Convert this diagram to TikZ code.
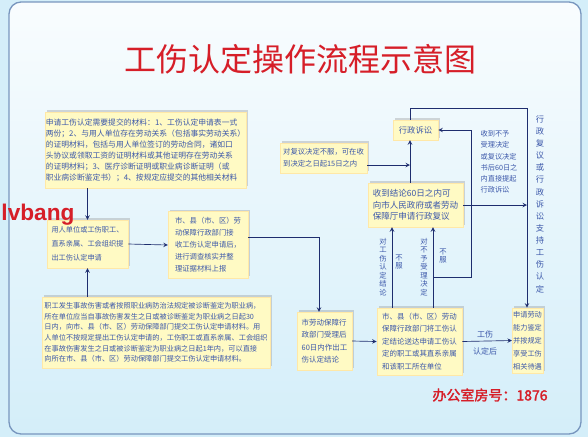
\documentclass[tikz,border=0pt]{standalone}
\usepackage{amsmath}
\usepackage{xcolor}
\usepackage{tikz}
\usepackage{fontspec}
\setmainfont{Noto Sans CJK SC}
\newfontfamily\cjkbold{Noto Sans CJK SC}[FakeBold=2]
\newfontfamily\latinsans{Liberation Sans}
\usetikzlibrary{shadows}

\definecolor{boxfill}{RGB}{255,250,196}
\definecolor{boxtext}{RGB}{60,88,170}
\definecolor{linenavy}{RGB}{30,45,110}
\definecolor{titlered}{RGB}{214,30,40}
\definecolor{framebg}{RGB}{212,238,249}
\definecolor{frameline}{RGB}{120,150,190}

\tikzset{
  flowbox/.style={fill=boxfill, draw=boxfill!85!orange, line width=0.3pt, drop shadow={shadow xshift=1.5pt, shadow yshift=1.5pt, opacity=0.3}, inner sep=0.75pt, text=boxtext, align=left},
  flowarrow/.style={draw=linenavy, line width=0.5pt, -stealth},
  sidetext/.style={text=boxtext, inner sep=0.75pt, align=center},
}

\begin{document}
\begin{tikzpicture}[x=0.75pt,y=0.75pt,yscale=-1,xscale=1]
%set diagram size 588 x 437
\useasboundingbox (0,0) rectangle (588,437);
\fill[framebg] (0,0) rectangle (588,437);
%Shape: Rounded Rect
\draw[frameline, line width=1pt, rounded corners=9pt, top color=white!85!framebg, bottom color=framebg] (9,2) rectangle (581,434);

% Text Node
\node (title) at (300,59) [text=titlered, inner sep=0.75pt, font=\fontsize{24}{26}\selectfont] {工伤认定操作流程示意图};

%Shape: Box
\node (mater) at (145.5,150) [flowbox, minimum width=146pt, minimum height=57pt, font=\fontsize{5.85}{8.2}\selectfont] {申请工伤认定需要提交的材料：1、工伤认定申请表一式\\两份；2、与用人单位存在劳动关系（包括事实劳动关系）\\的证明材料，包括与用人单位签订的劳动合同，诸如口\\头协议或领取工资的证明材料或其他证明存在劳动关系\\的证明材料；3、医疗诊断证明或职业病诊断证明（或\\职业病诊断鉴定书）；4、按规定应提交的其他相关材料};
%Shape: Box
\node (apply) at (87.5,244) [flowbox, minimum width=61pt, minimum height=36pt, font=\fontsize{5.4}{10.5}\selectfont] {用人单位或工伤职工、\\直系亲属、工会组织提\\出工伤认定申请};
%Shape: Box
\node (accept) at (208,245) [flowbox, minimum width=60pt, minimum height=50pt, font=\fontsize{5.5}{9}\selectfont] {市、县（市、区）劳\\动保障行政部门接\\收工伤认定申请后，\\进行调查核实并整\\理证据材料上报};
%Shape: Box
\node (notice) at (156,332.5) [flowbox, minimum width=171pt, minimum height=53pt, font=\fontsize{5.4}{7.9}\selectfont] {职工发生事故伤害或者按照职业病防治法规定被诊断鉴定为职业病，\\所在单位应当自事故伤害发生之日或被诊断鉴定为职业病之日起30\\日内，向市、县（市、区）劳动保障部门提交工伤认定申请材料。用\\人单位不按规定提出工伤认定申请的，工伤职工或直系亲属、工会组织\\在事故伤害发生之日或被诊断鉴定为职业病之日起1年内，可以直接\\向所在市、县（市、区）劳动保障部门提交工伤认定申请材料。};
%Shape: Box
\node (recheck) at (323.5,158) [flowbox, minimum width=65pt, minimum height=22.5pt, font=\fontsize{5.5}{9}\selectfont] {对复议决定不服，可在收\\到决定之日起15日之内};
%Shape: Box
\node (suit) at (415.5,130) [flowbox, minimum width=34pt, minimum height=15pt, font=\fontsize{6.2}{7}\selectfont] {行政诉讼};
%Shape: Box
\node (review) at (415.5,205) [flowbox, minimum width=71pt, minimum height=33pt, font=\fontsize{6.4}{8.8}\selectfont] {收到结论60日之内可\\向市人民政府或者劳动\\保障厅申请行政复议};
%Shape: Box
\node (verdict) at (324.5,341) [flowbox, minimum width=41pt, minimum height=43.5pt, font=\fontsize{5.6}{9.4}\selectfont] {市劳动保障行\\政部门受理后\\60日内作出工\\伤认定结论};
%Shape: Box
\node (deliver) at (419.5,341.5) [flowbox, minimum width=64pt, minimum height=50pt, font=\fontsize{5.6}{9.4}\selectfont] {市、县（市、区）劳动\\保障行政部门将工伤认\\定结论送达申请工伤认\\定的职工或其直系亲属\\和该职工所在单位};
%Shape: Box
\node (treat) at (527.5,340.5) [flowbox, minimum width=23pt, minimum height=49pt, font=\fontsize{5.4}{9.8}\selectfont] {申请劳动\\能力鉴定\\并按规定\\享受工伤\\相关待遇};

% corners of the connectors
\coordinate (j1) at (410,165);
\coordinate (t1) at (410,108);
\coordinate (t2) at (527,108);
\coordinate (c1) at (319,237);
\coordinate (u1) at (392,277);
\coordinate (u2) at (433,277);
\coordinate (u3) at (471,277);

%Straight Lines
\draw[flowarrow] (mater.south -| apply.north) -- (apply.north);
\draw[flowarrow] (notice.north -| apply.south) -- (apply.south);
\draw[flowarrow] (apply.east) -- (accept.west);
\draw[flowarrow] (accept.east |- c1) -- (c1) -- (c1 |- verdict.north);
\draw[flowarrow] (verdict.east) -- (deliver.west);
\draw[flowarrow] (deliver.east) -- (treat.west);
\draw[flowarrow] (deliver.north -| u1) -- (review.south -| u1);
\draw[flowarrow] (deliver.north -| u2) -- (review.south -| u2);
\draw[flowarrow] (u2) -- (u3) -- (suit.east -| u3) -- (suit.east);
\draw[flowarrow] (review.north -| j1) -- (suit.south -| j1);
\draw[flowarrow] (recheck.east |- j1) -- (j1);
\draw[flowarrow] (suit.north -| t1) -- (t1) -- (t2) -- (t2 |- treat.north);
\draw[flowarrow] (review.east) -- (review.east -| t2);

% Text Node
\node (lbl1) at (383,267) [sidetext, font=\fontsize{5.5}{6.4}\selectfont] {对\\工\\伤\\认\\定\\结\\论};
% Text Node
\node (lbl2) at (399,262) [sidetext, font=\fontsize{5.5}{6.4}\selectfont] {不\\服};
% Text Node
\node (lbl3) at (424,267) [sidetext, font=\fontsize{5.5}{6.4}\selectfont] {对\\不\\予\\受\\理\\决\\定};
% Text Node
\node (lbl4) at (443,256) [sidetext, font=\fontsize{5.5}{6.4}\selectfont] {不\\服};
% Text Node
\node (note) at (499,162) [text=boxtext, inner sep=0.75pt, align=left, font=\fontsize{5.4}{8.4}\selectfont] {收到不予\\受理决定\\或复议决定\\书后60日之\\内直接提起\\行政诉讼};
% Text Node
\node (side) at (540,204) [sidetext, font=\fontsize{6.2}{9.1}\selectfont] {行\\政\\复\\议\\或\\行\\政\\诉\\讼\\支\\持\\工\\伤\\认\\定};
% Text Node
\node (lbl5) at (485,334) [sidetext, font=\fontsize{6}{7}\selectfont] {工伤};
% Text Node
\node (lbl6) at (485,351) [sidetext, font=\fontsize{6}{7}\selectfont] {认定后};
% Text Node
\node (room) at (490,395) [text=titlered, inner sep=0.75pt, font=\cjkbold\fontsize{10.5}{12}\selectfont] {办公室房号：1876};
% Text Node
\node (mark) at (38,215) [text=titlered, inner sep=0.75pt, font=\latinsans\bfseries\fontsize{17}{18}\selectfont] {lvbang};
\end{tikzpicture}
\end{document}
